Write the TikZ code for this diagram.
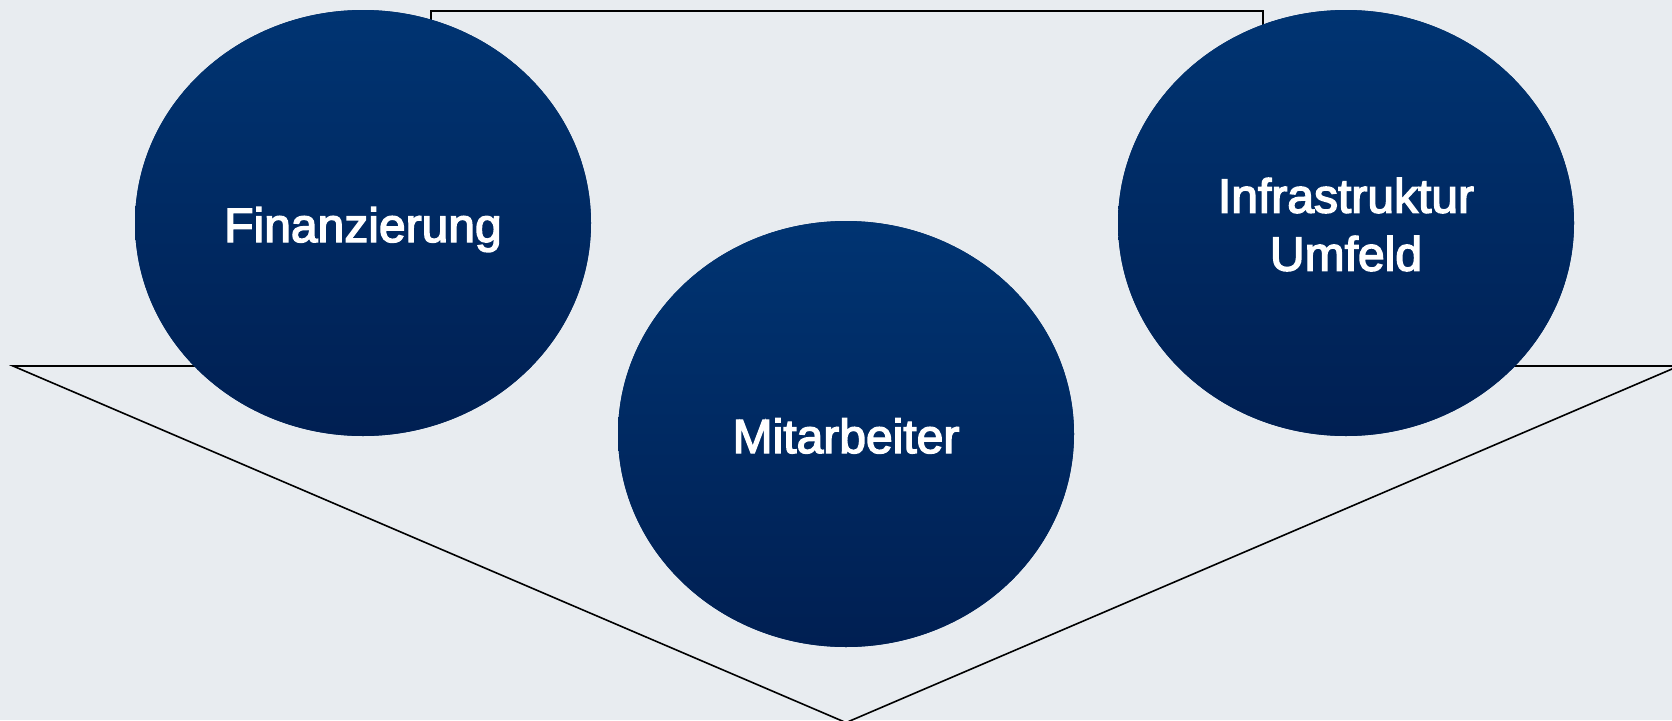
\documentclass[tikz,border=0pt]{standalone}
\usepackage{fontspec}
\setmainfont{Liberation Sans}
\newfontfamily\labelfont[FakeBold=3]{Liberation Sans}
\usetikzlibrary{shapes.geometric}
\definecolor{bg}{RGB}{232,236,240}
\definecolor{navytop}{RGB}{0,52,114}
\definecolor{navybot}{RGB}{0,31,82}
\begin{document}
\begin{tikzpicture}[x=1pt,y=1pt,
  bubble/.style={ellipse, minimum width=456pt, minimum height=426pt, inner sep=0pt, draw=none},
  bubblefill/.style={top color=navytop, bottom color=navybot, draw=none},
  lbl/.style={text=white, font=\labelfont\fontsize{48}{58}\selectfont, align=center, inner sep=0pt},
  frame/.style={draw=black, line width=1.6pt, line join=miter}]
% canvas
\fill[bg] (0,0) rectangle (1672,-720);
\useasboundingbox (0,0) rectangle (1672,-720);
% funnel outline; its top edge runs only from the corners in to the outer bubbles
\coordinate (tl) at (13,-366);
\coordinate (tr) at (1679,-366);
\coordinate (tip) at (846,-722.6);
\coordinate (tlin) at (300,-366);
\coordinate (trin) at (1400,-366);
\draw[frame] (tlin) -- (tl) -- (tip) -- (tr) -- (trin);
% open frame behind the upper bubbles
\coordinate (b1) at (431,-60);
\coordinate (b2) at (431,-11);
\coordinate (b3) at (1263,-11);
\coordinate (b4) at (1263,-60);
\draw[frame] (b1) -- (b2) -- (b3) -- (b4);
% bubbles: a flat base fill under the vertical gradient
\node[bubble] (fin) at (363,-223) {};
\node[bubble] (mit) at (846,-434) {};
\node[bubble] (inf) at (1346,-223) {};
\foreach \b in {fin,mit,inf}{
  \fill[navytop!50!navybot] (\b.center) ellipse [x radius=228, y radius=213];
  \shade[bubblefill] (\b.center) ellipse [x radius=228, y radius=213];
}
% labels
\node[lbl, anchor=base] (finT) at (363,-242) {Finanzierung};
\node[lbl, anchor=base] (mitT) at (846,-453) {Mitarbeiter};
\node[lbl] (infT) at (1346,-224.5) {Infrastruktur\\Umfeld};
\end{tikzpicture}
\end{document}
